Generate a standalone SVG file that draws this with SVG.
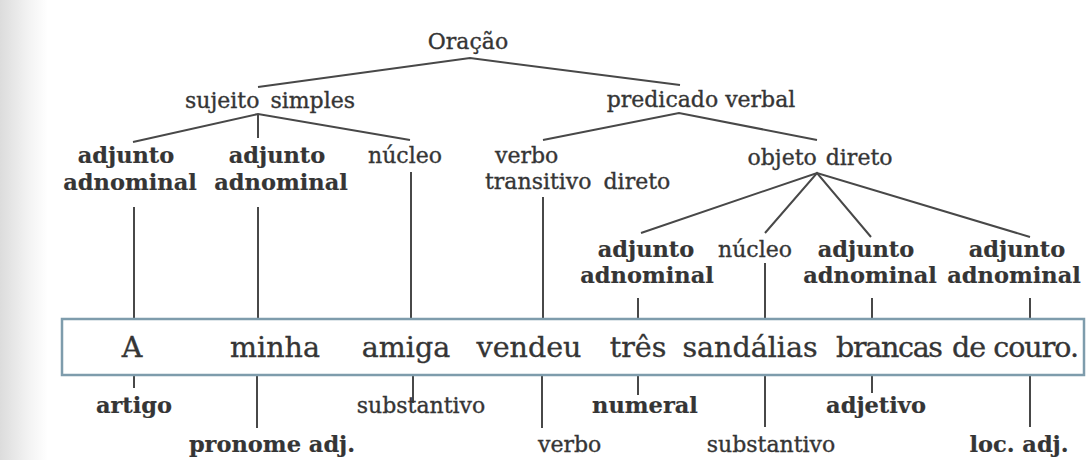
<svg xmlns="http://www.w3.org/2000/svg" width="1086" height="460" viewBox="0 0 1086 460">
  <defs>
    <linearGradient id="scan" x1="0" y1="0" x2="1" y2="0">
      <stop offset="0" stop-color="#dcdcdc"/>
      <stop offset="0.6" stop-color="#f3f3f3"/>
      <stop offset="1" stop-color="#ffffff"/>
    </linearGradient>
    <style>
      text { font-family: "DejaVu Serif", "Liberation Serif", serif; fill: #353535; stroke: #353535; stroke-width: 0.35px; }
      .r { font-size: 22px; }
      .b { font-size: 22.5px; font-weight: bold; stroke-width: 0.2px; }
      .w { font-size: 28.5px; }
      .c { text-anchor: middle; }
      .ln { stroke: #484848; stroke-width: 2; fill: none; stroke-linecap: butt; }
      .box { fill: #ffffff; stroke: #7e9cac; stroke-width: 2.5; }
    </style>
  </defs>

  <rect x="0" y="0" width="1086" height="460" fill="#ffffff"/>
  <rect x="0" y="0" width="48" height="460" fill="url(#scan)"/>

  <g id="connectors" class="ln">
    <!-- Oração -->
    <path d="M258,87 L470,58 L680,85"/>
    <!-- sujeito simples -->
    <path d="M133,142 L258,114 L410,140"/>
    <path d="M258,114 V138"/>
    <!-- predicado verbal -->
    <path d="M543,140 L679,113 L817,140"/>
    <!-- objeto direto -->
    <path d="M641,233 L817,173 L1030,237"/>
    <path d="M765,233 L817,173 L871,237"/>
    <!-- down to sentence -->
    <path d="M134,207 V319"/>
    <path d="M258,207 V319"/>
    <path d="M411,172 V319"/>
    <path d="M543,197 V319"/>
    <path d="M638,298 V319"/>
    <path d="M765,263 V319"/>
    <path d="M872,298 V319"/>
    <path d="M1030,298 V319"/>
    <!-- down to word classes -->
    <path d="M134,375 V388"/>
    <path d="M257,375 V428"/>
    <path d="M413,375 V403"/>
    <path d="M542,375 V428"/>
    <path d="M638,375 V395"/>
    <path d="M765,375 V427"/>
    <path d="M872,375 V393"/>
    <path d="M1030,375 V427"/>
  </g>

  <g id="oracao"><text class="r c" x="468" y="49">Oração</text></g>
  <g id="sujeito-simples"><text class="r c" x="270" y="108" word-spacing="4">sujeito simples</text></g>
  <g id="predicado-verbal"><text class="r c" x="701" y="107">predicado verbal</text></g>

  <g id="adj-adn-1"><text class="b c" x="126" y="163">adjunto</text><text class="b c" x="130" y="190">adnominal</text></g>
  <g id="adj-adn-2"><text class="b c" x="277" y="163">adjunto</text><text class="b c" x="281" y="190">adnominal</text></g>
  <g id="nucleo-1"><text class="r c" x="405" y="163">núcleo</text></g>
  <g id="verbo-td"><text class="r" x="495" y="163">verbo</text><text class="r" x="485" y="189" word-spacing="5">transitivo direto</text></g>
  <g id="objeto-direto"><text class="r c" x="820" y="165" word-spacing="2">objeto direto</text></g>

  <g id="adj-adn-3"><text class="b c" x="646" y="257">adjunto</text><text class="b c" x="647" y="283">adnominal</text></g>
  <g id="nucleo-2"><text class="r c" x="755" y="257">núcleo</text></g>
  <g id="adj-adn-4"><text class="b c" x="866" y="257">adjunto</text><text class="b c" x="870" y="283">adnominal</text></g>
  <g id="adj-adn-5"><text class="b c" x="1017" y="257">adjunto</text><text class="b c" x="1014" y="283">adnominal</text></g>

  <g id="sentence">
    <rect class="box" x="62" y="319" width="1022" height="56"/>
    <text class="w c" x="132" y="357">A</text>
    <text class="w c" x="275" y="357">minha</text>
    <text class="w c" x="406" y="357">amiga</text>
    <text class="w c" x="529" y="357">vendeu</text>
    <text class="w c" x="638" y="357">três</text>
    <text class="w c" x="750" y="357">sandálias</text>
    <text class="w" x="836" y="357" textLength="107" lengthAdjust="spacing">brancas</text>
    <text class="w" x="952" y="357" textLength="127" lengthAdjust="spacing">de couro.</text>
  </g>

  <g id="artigo"><text class="b c" x="134" y="413">artigo</text></g>
  <g id="pronome-adj"><text class="b c" x="272" y="452">pronome adj.</text></g>
  <g id="substantivo-1"><text class="r c" x="421" y="413">substantivo</text></g>
  <g id="verbo"><text class="r" x="538" y="452">verbo</text></g>
  <g id="numeral"><text class="b c" x="645" y="413">numeral</text></g>
  <g id="substantivo-2"><text class="r c" x="771" y="452">substantivo</text></g>
  <g id="adjetivo"><text class="b c" x="876" y="413">adjetivo</text></g>
  <g id="loc-adj"><text class="b c" x="1019" y="452">loc. adj.</text></g>
</svg>
